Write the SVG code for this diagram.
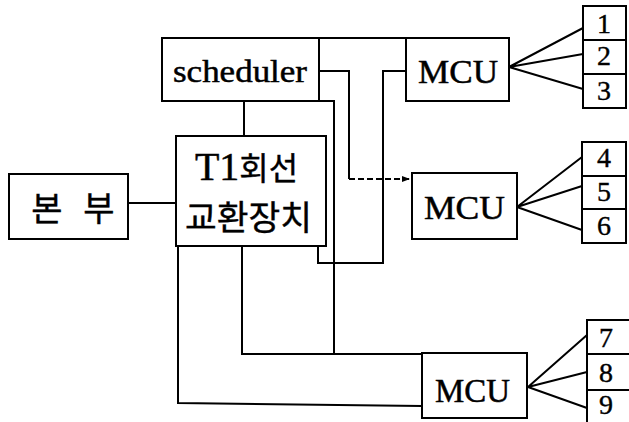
<svg xmlns="http://www.w3.org/2000/svg" width="629" height="422" viewBox="0 0 629 422">
<style>
.b{fill:#fff;stroke:#000;stroke-width:2}
.l{fill:none;stroke:#000;stroke-width:2}
.t{font-family:"Liberation Serif",serif;fill:#000;stroke:#000;stroke-width:0.5}
.k{font-family:"Noto Sans CJK KR",sans-serif;fill:#000;stroke:#000;stroke-width:0.4}
.n{font-family:"Liberation Serif",serif;fill:#000;stroke:#000;stroke-width:0.4;font-size:28px;text-anchor:middle}
</style>
<defs>
<marker id="ah" markerWidth="8" markerHeight="6" refX="8" refY="3" orient="auto" markerUnits="userSpaceOnUse">
<path d="M0,0 L8,3 L0,6 Z" fill="#000"/>
</marker>
</defs>
<rect width="629" height="422" fill="#fff"/>
<g id="connectors">
<path class="l" d="M244,101 V136"/>
<path class="l" d="M128,203 H176"/>
<path class="l" d="M319,38 H406"/>
<path class="l" d="M319,71 H349 V179"/>
<path class="l" d="M349,179 H410" stroke-dasharray="6,3" stroke-width="1.3" marker-end="url(#ah)"/>
<path class="l" d="M318,246 V263 H383 V71 H406"/>
<path class="l" d="M319,101 H334 V354"/>
<path class="l" d="M242,246 V354 H422"/>
<path class="l" d="M178,246 V403 L422,406"/>
<path class="l" d="M509,67 L583,28 M509,67 L583,54 M509,67 L583,89"/>
<path class="l" d="M517,207 L582,157 M517,207 L582,186 M517,207 L582,230"/>
<path class="l" d="M528,387 L587,335 M528,387 L587,372 M528,387 L587,408"/>
</g>
<g id="bonbu">
<rect class="b" x="9" y="174" width="119" height="65"/>
<text class="k" x="47" y="221" font-size="34" text-anchor="middle">본</text>
<text class="k" x="99" y="221" font-size="34" text-anchor="middle">부</text>
</g>
<g id="scheduler">
<rect class="b" x="162" y="38" width="157" height="63"/>
<text class="t" x="173" y="82" font-size="32" textLength="134" lengthAdjust="spacingAndGlyphs">scheduler</text>
</g>
<g id="t1">
<rect class="b" x="176" y="136" width="150" height="110"/>
<text class="k" x="195" y="180" font-size="32" textLength="103" lengthAdjust="spacingAndGlyphs"><tspan class="t" font-size="40">T1</tspan>회선</text>
<text class="k" x="185" y="230" font-size="34" textLength="127" lengthAdjust="spacingAndGlyphs">교환장치</text>
</g>
<g id="mcu1">
<rect class="b" x="406" y="38" width="103" height="63"/>
<text class="t" x="418" y="83" font-size="33" textLength="80" lengthAdjust="spacingAndGlyphs">MCU</text>
</g>
<g id="mcu2">
<rect class="b" x="412" y="173" width="105" height="66"/>
<text class="t" x="424" y="219" font-size="33" textLength="81" lengthAdjust="spacingAndGlyphs">MCU</text>
</g>
<g id="mcu3">
<rect class="b" x="422" y="353" width="105" height="65"/>
<text class="t" x="435" y="402" font-size="33" textLength="75" lengthAdjust="spacingAndGlyphs">MCU</text>
</g>
<g id="ports1">
<rect class="b" x="583" y="6" width="43" height="34"/>
<rect class="b" x="583" y="40" width="43" height="34"/>
<rect class="b" x="583" y="74" width="43" height="34"/>
<text class="n" x="604" y="33">1</text>
<text class="n" x="604" y="65">2</text>
<text class="n" x="604" y="100">3</text>
</g>
<g id="ports2">
<rect class="b" x="582" y="142" width="44" height="34"/>
<rect class="b" x="582" y="176" width="44" height="33"/>
<rect class="b" x="582" y="209" width="44" height="34"/>
<text class="n" x="604" y="167">4</text>
<text class="n" x="604" y="201">5</text>
<text class="n" x="604" y="235">6</text>
</g>
<g id="ports3">
<rect class="b" x="587" y="320" width="50" height="34"/>
<rect class="b" x="587" y="354" width="50" height="36"/>
<rect class="b" x="587" y="390" width="50" height="40"/>
<text class="n" x="606" y="347">7</text>
<text class="n" x="606" y="382">8</text>
<text class="n" x="606" y="414">9</text>
</g>
</svg>
